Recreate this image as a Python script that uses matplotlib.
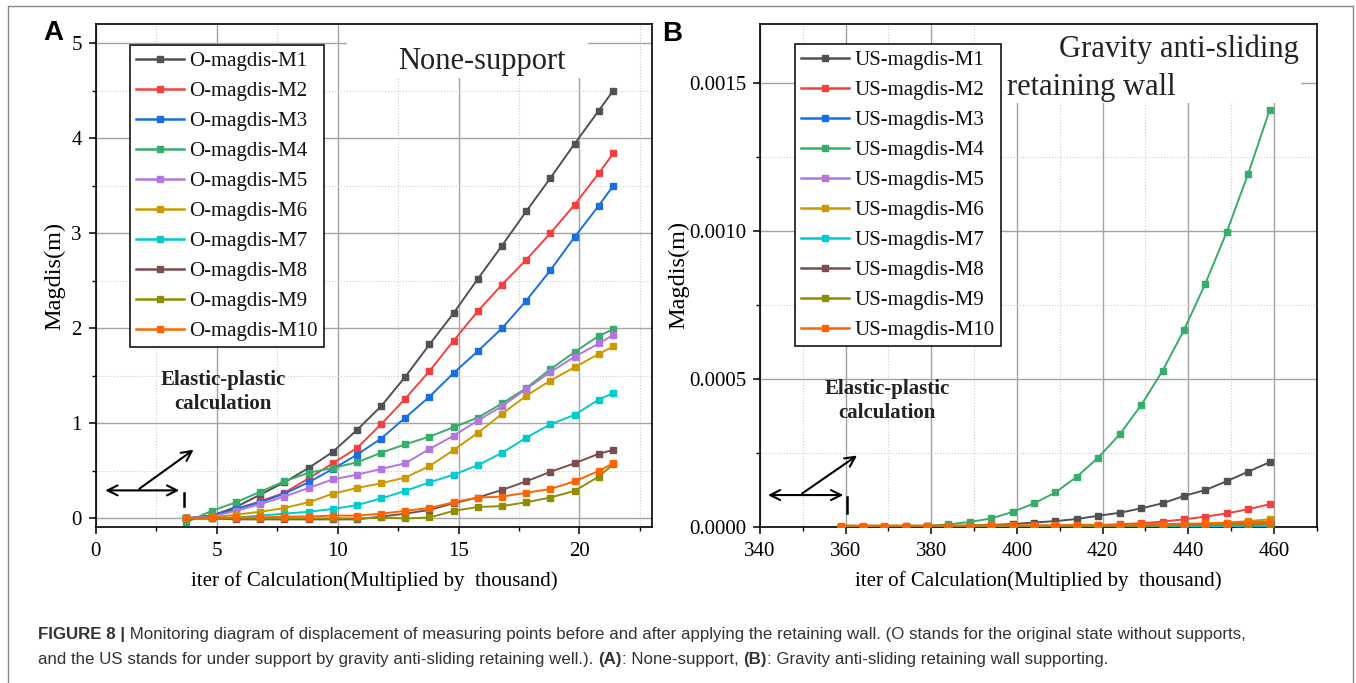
import matplotlib
matplotlib.use("Agg")
import matplotlib.pyplot as plt
from matplotlib.patches import Rectangle
from matplotlib.ticker import MultipleLocator, FormatStrFormatter

plt.rcParams['font.family'] = 'Liberation Serif'

W, H = 1356, 683

# ---- data, panel A (none-support) ----
iters_a = [3.75, 4.8, 5.8, 6.8, 7.8, 8.8, 9.8, 10.8, 11.8, 12.8, 13.8,
           14.8, 15.8, 16.8, 17.8, 18.8, 19.8, 20.8, 21.4]
o_m1 = [0, 0.03, 0.12, 0.25, 0.38, 0.53, 0.70, 0.93, 1.18, 1.49, 1.83, 2.16, 2.52, 2.87, 3.23, 3.58, 3.94, 4.29, 4.50]
o_m2 = [0, 0.03, 0.10, 0.18, 0.27, 0.42, 0.58, 0.74, 0.99, 1.26, 1.55, 1.87, 2.18, 2.46, 2.72, 3.00, 3.30, 3.63, 3.84]
o_m3 = [0, 0.03, 0.10, 0.17, 0.26, 0.38, 0.52, 0.67, 0.84, 1.06, 1.28, 1.53, 1.76, 2.00, 2.29, 2.61, 2.96, 3.29, 3.50]
o_m4 = [-0.04, 0.08, 0.17, 0.28, 0.39, 0.48, 0.53, 0.59, 0.69, 0.78, 0.86, 0.96, 1.06, 1.21, 1.37, 1.57, 1.75, 1.92, 1.99]
o_m5 = [0, 0.02, 0.08, 0.15, 0.23, 0.32, 0.41, 0.46, 0.52, 0.58, 0.73, 0.87, 1.03, 1.18, 1.36, 1.54, 1.70, 1.84, 1.93]
o_m6 = [0, 0.01, 0.04, 0.07, 0.11, 0.17, 0.26, 0.32, 0.37, 0.43, 0.55, 0.72, 0.90, 1.10, 1.29, 1.45, 1.59, 1.73, 1.81]
o_m7 = [0, 0.0, 0.01, 0.03, 0.05, 0.07, 0.10, 0.14, 0.21, 0.29, 0.38, 0.46, 0.56, 0.69, 0.85, 0.99, 1.09, 1.25, 1.32]
o_m8 = [0, 0, -0.01, -0.01, -0.01, -0.01, -0.01, -0.01, 0.02, 0.05, 0.09, 0.16, 0.22, 0.30, 0.39, 0.49, 0.58, 0.68, 0.72]
o_m9 = [0, 0, 0, 0, 0, 0, 0, 0, 0.01, 0.0, 0.01, 0.08, 0.12, 0.13, 0.17, 0.22, 0.29, 0.44, 0.57]
o_m10 = [0, 0.01, 0.01, 0.01, 0.02, 0.02, 0.03, 0.03, 0.05, 0.08, 0.11, 0.17, 0.22, 0.23, 0.27, 0.31, 0.39, 0.50, 0.58]

# ---- data, panel B (gravity anti-sliding retaining wall) ----
iters_b = [359, 364, 369, 374, 379, 384, 389, 394, 399, 404, 409,
           414, 419, 424, 429, 434, 439, 444, 449, 454, 459]
us_m1 = [0, 0, 0, 0, 0.000001, 0.000002, 0.000004, 0.000006, 0.000009, 0.000014, 0.000019,
         0.000026, 0.000037, 0.000047, 0.000062, 0.000079, 0.000104, 0.000124, 0.000154, 0.000186, 0.000218]
us_m2 = [0, 0, 0, 0, 0, 0, 0, 0.000001, 0.000001, 0.000002, 0.000003,
         0.000004, 0.000005, 0.000008, 0.000012, 0.000017, 0.000025, 0.000034, 0.000045, 0.000059, 0.000076]
us_m3 = [0, 0, 0, 0, 0, 0, 0, 0, 0, 0, 0,
         0, 0, 0, 0.000001, 0.000001, 0.000001, 0.000001, 0.000002, 0.000002, 0.000002]
us_m4 = [0, 0, 0, 0.000001, 0.000003, 0.000008, 0.000016, 0.000028, 0.000050, 0.000079, 0.000116,
         0.000169, 0.000234, 0.000312, 0.000411, 0.000527, 0.000665, 0.000822, 0.000997, 0.001194, 0.001408]
us_m5 = [0, 0, 0, 0, 0, 0, 0, 0, 0, 0, 0.000001,
         0.000001, 0.000001, 0.000002, 0.000002, 0.000003, 0.000003, 0.000004, 0.000004, 0.000005, 0.000005]
us_m6 = [0, 0, 0, 0, 0, 0, 0, 0, 0, 0.000001, 0.000001,
         0.000001, 0.000002, 0.000002, 0.000003, 0.000005, 0.000007, 0.000010, 0.000014, 0.000019, 0.000025]
us_m7 = [0, 0, 0, 0, 0, 0, 0, 0, 0, 0, 0,
         0.000001, 0.000001, 0.000001, 0.000002, 0.000002, 0.000002, 0.000003, 0.000003, 0.000004, 0.000004]
us_m8 = [0, 0, 0, 0, 0, 0, 0, 0.000001, 0.000001, 0.000001, 0.000002,
         0.000002, 0.000003, 0.000004, 0.000005, 0.000006, 0.000007, 0.000009, 0.000010, 0.000012, 0.000014]
us_m9 = [0, 0, 0, 0, 0, 0, 0, 0, 0.000001, 0.000001, 0.000001,
         0.000002, 0.000002, 0.000003, 0.000003, 0.000004, 0.000005, 0.000006, 0.000007, 0.000008, 0.000010]
us_m10 = [0.000004, 0.000004, 0.000004, 0.000004, 0.000004, 0.000004, 0.000004, 0.000005, 0.000005, 0.000005, 0.000005,
          0.000006, 0.000006, 0.000007, 0.000008, 0.000009, 0.000010, 0.000011, 0.000013, 0.000015, 0.000017]

colors = ['#515151', '#F14040', '#1A6FDF', '#37AD6B', '#B177DE',
          '#CC9900', '#00CBCC', '#7D4E4E', '#8E8E00', '#FB6501']
series_a = [o_m1, o_m2, o_m3, o_m4, o_m5, o_m6, o_m7, o_m8, o_m9, o_m10]
series_b = [us_m1, us_m2, us_m3, us_m4, us_m5, us_m6, us_m7, us_m8, us_m9, us_m10]
labels_a = ['O-magdis-M%d' % i for i in range(1, 11)]
labels_b = ['US-magdis-M%d' % i for i in range(1, 11)]

xlabel = 'iter of Calculation(Multiplied by  thousand)'

fig = plt.figure(figsize=(W / 100, H / 100), dpi=100)


def px_axes(x0, y0, x1, y1):
    return fig.add_axes([x0 / W, 1 - y1 / H, (x1 - x0) / W, (y1 - y0) / H])


def style_axes(ax, ylabelpad):
    ax.set_axisbelow(True)
    ax.grid(which='major', color='#a3a3a3', lw=1.0, ls='-')
    ax.grid(which='minor', color='#cccccc', lw=0.8, ls=':')
    for s in ax.spines.values():
        s.set_linewidth(1.2)
        s.set_color('black')
    ax.tick_params(which='major', direction='out', length=5, width=1.1,
                   labelsize=15, pad=5, colors='black')
    ax.tick_params(which='minor', direction='out', length=3, width=1.0)
    ax.tick_params(axis='x', pad=6)
    ax.set_ylabel('Magdis(m)', fontsize=17.5, labelpad=ylabelpad)
    ax.set_xlabel(xlabel, fontsize=15, labelpad=7)


def add_legend(ax, anchor):
    leg = ax.legend(loc='upper left', bbox_to_anchor=anchor, borderaxespad=0,
                    fontsize=15, frameon=True, fancybox=False, framealpha=1,
                    edgecolor='black', handlelength=2.3, handletextpad=0.25,
                    labelspacing=0.5, borderpad=0.3)
    leg.get_frame().set_linewidth(1.1)
    for t in leg.get_texts():
        t.set_color('#111111')
    for ln in leg.get_lines():
        ln.set_linewidth(1.8)
    return leg


# ---------------- panel A ----------------
ax1 = px_axes(95.7, 24, 652, 527)
for ys, c, lab in zip(series_a, colors, labels_a):
    ax1.plot(iters_a, ys, color=c, lw=1.4, marker='s', ms=4.3, label=lab, zorder=3)
ax1.set_xlim(0, 23)
ax1.set_ylim(-0.09, 5.2)
ax1.xaxis.set_major_locator(MultipleLocator(5))
ax1.xaxis.set_minor_locator(MultipleLocator(2.5))
ax1.yaxis.set_major_locator(MultipleLocator(1))
ax1.yaxis.set_minor_locator(MultipleLocator(0.5))
style_axes(ax1, 4)

ax1.add_patch(Rectangle((0.452, 0.893), 0.433, 0.107, transform=ax1.transAxes,
                        facecolor='white', edgecolor='none', zorder=1.5))
ax1.text(0.694, 0.926, 'None-support', transform=ax1.transAxes, fontsize=22,
         ha='center', va='center', color='#222222', zorder=4)

add_legend(ax1, (0.0617, 0.958))

ax1.text(5.28, 1.33, 'Elastic-plastic\ncalculation', fontsize=15, fontweight='bold',
         ha='center', va='center', color='#222222', linespacing=1.3, zorder=4)
ax1.annotate('', xy=(0.28, 0.295), xytext=(3.57, 0.295),
             arrowprops=dict(arrowstyle='<->', lw=1.5, color='black', mutation_scale=18))
ax1.annotate('', xy=(4.14, 0.74), xytext=(1.71, 0.295),
             arrowprops=dict(arrowstyle='->', lw=1.5, color='black', mutation_scale=18))
ax1.plot([3.67, 3.67], [0.27, 0.13], color='black', lw=1.8)

# ---------------- panel B ----------------
ax2 = px_axes(760, 24, 1316.7, 526.7)
for ys, c, lab in zip(series_b, colors, labels_b):
    ax2.plot(iters_b, ys, color=c, lw=1.4, marker='s', ms=4.3, label=lab, zorder=3)
ax2.set_xlim(340, 470)
ax2.set_ylim(0, 0.0017)
ax2.xaxis.set_major_locator(MultipleLocator(20))
ax2.xaxis.set_minor_locator(MultipleLocator(10))
ax2.yaxis.set_major_locator(MultipleLocator(0.0005))
ax2.yaxis.set_minor_locator(MultipleLocator(0.00025))
ax2.yaxis.set_major_formatter(FormatStrFormatter('%.4f'))
style_axes(ax2, 0)

ax2.add_patch(Rectangle((0.4257, 0.843), 0.546, 0.157, transform=ax2.transAxes,
                        facecolor='white', edgecolor='none', zorder=1.5))
ax2.text(0.752, 0.95, 'Gravity anti-sliding', transform=ax2.transAxes, fontsize=22,
         ha='center', va='center', color='#222222', zorder=4)
ax2.text(0.595, 0.874, 'retaining wall', transform=ax2.transAxes, fontsize=22,
         ha='center', va='center', color='#222222', zorder=4)

add_legend(ax2, (0.0629, 0.960))

ax2.text(369.6, 0.000425, 'Elastic-plastic\ncalculation', fontsize=15, fontweight='bold',
         ha='center', va='center', color='#222222', linespacing=1.3, zorder=4)
ax2.annotate('', xy=(341.2, 0.000107), xytext=(360.1, 0.000107),
             arrowprops=dict(arrowstyle='<->', lw=1.5, color='black', mutation_scale=18))
ax2.annotate('', xy=(363.2, 0.000246), xytext=(349.3, 0.000107),
             arrowprops=dict(arrowstyle='->', lw=1.5, color='black', mutation_scale=18))
ax2.plot([360.4, 360.4], [0.000101, 0.000047], color='black', lw=1.8)

# panel letters
fig.text(53 / W, 1 - 33 / H, 'A', fontsize=20, fontweight='bold', family='Liberation Sans',
         ha='center', va='center')
fig.text(672 / W, 1 - 34 / H, 'B', fontsize=20, fontweight='bold', family='Liberation Sans',
         ha='center', va='center')

# outer frame
fig.add_artist(plt.Line2D([8 / W, 8 / W, 1353 / W, 1353 / W], [0, 1 - 6 / H, 1 - 6 / H, 0],
                          transform=fig.transFigure, color='#888888', lw=1.0))

# caption with bold pieces
renderer = fig.canvas.get_renderer()


def rich_line(x, y, parts, size=12.2):
    for txt, weight in parts:
        t = fig.text(x / W, 1 - y / H, txt, fontsize=size, fontweight=weight,
                     family='Liberation Sans', color='#333333', va='baseline', ha='left')
        bb = t.get_window_extent(renderer)
        x += bb.width


rich_line(38, 639, [('FIGURE 8 |', 'bold'),
                    (' Monitoring diagram of displacement of measuring points before and after applying '
                     'the retaining wall. (O stands for the original state without supports,', 'normal')])
rich_line(38, 664, [('and the US stands for under support by gravity anti-sliding retaining well.). ', 'normal'),
                    ('(A)', 'bold'), (': None-support, ', 'normal'),
                    ('(B)', 'bold'), (': Gravity anti-sliding retaining wall supporting.', 'normal')])

fig.savefig('out.png', dpi=100)
